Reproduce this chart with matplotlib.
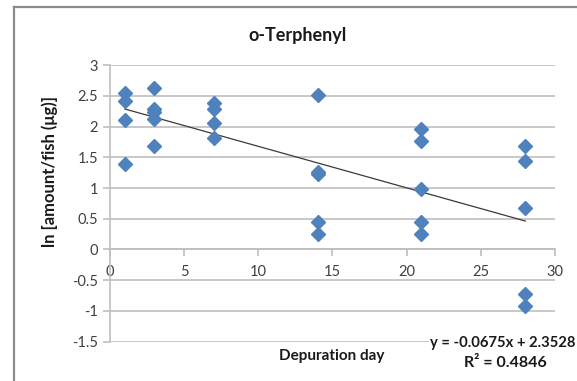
import numpy as np
import matplotlib
matplotlib.use("Agg")
import matplotlib.pyplot as plt
from matplotlib.lines import Line2D

plt.rcParams["font.family"] = ["Lato", "DejaVu Sans"]

# depuration day and ln(amount/fish) per fish
days = [1, 1, 1, 1,
        3, 3, 3, 3, 3,
        7, 7, 7, 7,
        14, 14, 14, 14, 14,
        21, 21, 21, 21, 21,
        28, 28, 28, 28, 28]
ln_amount = [2.55, 2.42, 2.11, 1.39,
             2.63, 2.28, 2.24, 2.13, 1.68,
             2.38, 2.28, 2.05, 1.82,
             2.51, 1.26, 1.23, 0.45, 0.25,
             1.96, 1.77, 0.99, 0.45, 0.25,
             1.68, 1.44, 0.67, -0.72, -0.92]

slope = -0.0675
intercept = 2.3528
r_squared = 0.4846

grid_col = "#bfbfbf"
text_col = "#404040"
label_col = "#1a1a1a"

fig = plt.figure(figsize=(5.77, 3.81), dpi=100)
ax = fig.add_axes([0.1906, 0.1031, 0.7712, 0.7262])

ax.set_xlim(0, 30)
ax.set_ylim(-1.5, 3)
ax.set_yticks(np.arange(-1.5, 3.01, 0.5))
ax.set_yticklabels(["-1.5", "-1", "-0.5", "0", "0.5", "1", "1.5", "2", "2.5", "3"])
ax.set_xticks([0, 5, 10, 15, 20, 25, 30])

ax.yaxis.grid(True, color=grid_col, lw=1.2)
ax.set_axisbelow(True)
for s in ["top", "right"]:
    ax.spines[s].set_visible(False)
ax.spines["left"].set_color(grid_col)
ax.spines["left"].set_linewidth(1.2)
ax.spines["bottom"].set_position(("data", 0))
ax.spines["bottom"].set_color(grid_col)
ax.spines["bottom"].set_linewidth(1.2)
ax.tick_params(axis="both", direction="out", length=5, width=1.2, color=grid_col,
               labelsize=10.5, labelcolor=text_col)
ax.tick_params(axis="x", pad=6)

ax.plot(days, ln_amount, "D", color="#4f81bd", ms=7, mec="#4f81bd", zorder=3)

xfit = np.array([min(days), max(days)])
ax.plot(xfit, slope * xfit + intercept, color="#3a3a3a", lw=0.9, zorder=2)

fig.text(0.516, 0.908, "o-Terphenyl", ha="center", va="center",
         fontsize=13, fontweight="bold", color=label_col)
fig.text(0.087, 0.551, "ln [amount/fish (\u03bcg)]", ha="center", va="center",
         rotation=90, fontsize=12, fontweight="bold", color=label_col)
fig.text(0.574, 0.066, "Depuration day", ha="center", va="center",
         fontsize=11, fontweight="bold", color=label_col)
fig.text(0.745, 0.099, f"y = {slope}x + {intercept}", ha="left", va="center",
         fontsize=10.6, fontweight="bold", color=label_col,
         bbox=dict(facecolor="white", edgecolor="none", pad=0.5))
fig.text(0.875, 0.047, f"R\u00b2 = {r_squared}", ha="center", va="center",
         fontsize=11.5, fontweight="bold", color=label_col)

# chart frame (top and left edges)
fig.add_artist(Line2D([14 / 577, 1.0], [1 - 7 / 381] * 2, color="#8c8c8c", lw=1.6))
fig.add_artist(Line2D([14 / 577] * 2, [0.0, 1 - 7 / 381], color="#8c8c8c", lw=1.6))

fig.savefig("out.png", dpi=100)
